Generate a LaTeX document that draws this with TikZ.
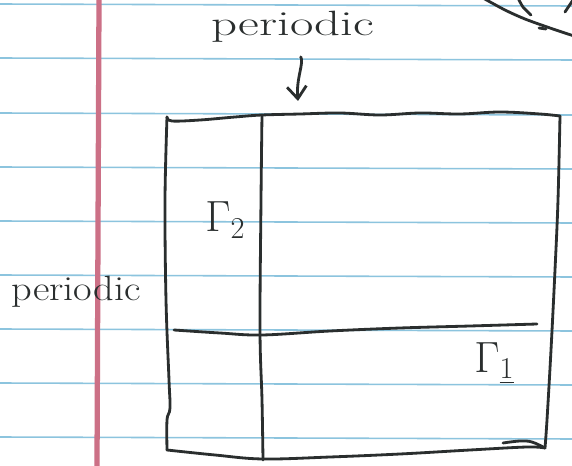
\documentclass[tikz,border=0pt]{standalone}
\usepackage{amsmath, amssymb}
\usetikzlibrary{arrows.meta}

\definecolor{ink}{RGB}{42,46,46}
\definecolor{rule}{RGB}{140,196,222}
\definecolor{margin}{RGB}{204,112,134}

\begin{document}
\begin{tikzpicture}
    [x=0.02cm, y=-0.02cm,
    pen/.style={draw=ink, line width=1.6pt, line cap=round, line join=round},
    pointer/.style={pen, -{Straight Barb[length=7pt, width=11pt]}},
    word/.style={text=ink, inner sep=0pt, anchor=base west, font=\fontsize{20}{24}\selectfont},
    gam/.style={text=ink, inner sep=0pt, anchor=base west, font=\fontsize{24}{28}\selectfont}]
        \useasboundingbox (0,0) rectangle (572,466);
        \clip (0,0) rectangle (572,466);
        \fill[white] (0,0) rectangle (572,466);
        \foreach \y in {4,58,113,167,221,275,329,383,437}
            \draw[rule, line width=0.9pt] (0,\y) -- (572,\y+2);
        \draw[margin, line width=3pt] (99,0) -- (97,466);

        \node[word] (P1) at (211,36) {\scalebox{1.45}[1]{periodic}};
        \node[word] (P2) at (11,300) {\scalebox{1.15}[1]{periodic}};
        \node[gam] (G2) at (205,232) {$\Gamma_2$};
        \node[gam] (G1) at (474,372) {$\Gamma_{\underline{1}}$};
        \coordinate (T) at (298,101);

        \draw[pen] plot[smooth, tension=0.6] coordinates {(167,117) (172,121) (200,120) (235,117) (262,115) (300,114) (340,113) (380,115) (420,113) (460,114) (500,112) (540,114) (560,116)};
        \draw[pen] plot[smooth, tension=0.6] coordinates {(560,116) (558,200) (555,270) (551,350) (547,420) (545,448)};
        \draw[pen] plot[smooth, tension=0.6] coordinates {(167,117) (165,200) (166,300) (169,380) (170,408) (167,420) (167,450)};
        \draw[pen] plot[smooth, tension=0.6] coordinates {(167,450) (215,455) (263,459) (330,457) (400,454) (470,450) (527,447) (545,448)};
        \draw[pen] plot[smooth, tension=0.6] coordinates {(503,443) (520,441) (532,442) (545,448)};
        \draw[pen] plot[smooth, tension=0.6] coordinates {(262,115) (261,200) (260,330) (262,400) (263,460)};
        \draw[pen] plot[smooth, tension=0.6] coordinates {(174,330) (220,333) (262,335) (330,331) (400,328) (470,326) (537,324)};

        \draw[pointer, shorten <=9pt] (P1.south) to[out=-60, in=95] (T);

        \draw[pen] plot[smooth] coordinates {(483,-2) (505,10) (525,19) (550,28) (574,36)};
        \draw[pen] plot[smooth] coordinates {(518,-2) (523,7) (531,15)};
        \draw[pen] (565,12) -- (573,0);
        \draw[pen] (539,28) -- (546,29);
   \end{tikzpicture}
\end{document}
